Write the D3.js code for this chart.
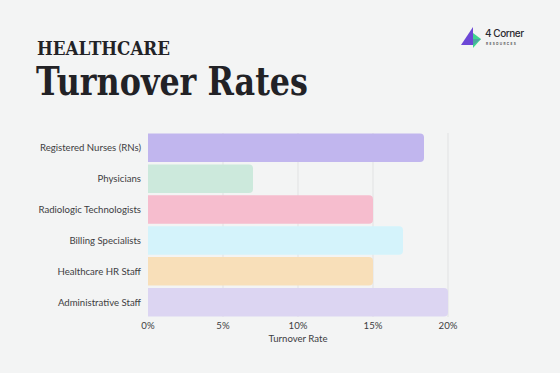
<!DOCTYPE html>
<html>
<head>
<meta charset="utf-8">
<script src="https://cdn.jsdelivr.net/npm/d3@7"></script>
<style>
  body { margin: 0; background: #f3f4f4; }
  svg { display: block; }
</style>
</head>
<body>
<div id="chart"></div>
<script>
// data
const categories = [
  "Registered Nurses (RNs)",
  "Physicians",
  "Radiologic Technologists",
  "Billing Specialists",
  "Healthcare HR Staff",
  "Administrative Staff"
];
const turnover = [18.4, 7, 15, 17, 15, 20];
const barColors = ["#c1b6ee", "#cce9dc", "#f6bdce", "#d4f3fb", "#f8dfb9", "#dcd5f2"];
const xTicks = [0, 5, 10, 15, 20];

const width = 560, height = 373;
const margins = { top: 133, bottom: 56, left: 148, right: 112 };

const svg = d3.select("#chart")
  .append("svg")
  .attr("width", width)
  .attr("height", height);

svg.append("rect")
  .attr("width", width)
  .attr("height", height)
  .attr("fill", "#f3f4f4");

// titles
svg.append("text")
  .attr("x", 37).attr("y", 55)
  .attr("font-family", "DejaVu Serif")
  .attr("font-weight", "bold")
  .attr("font-size", 19)
  .attr("textLength", 133)
  .attr("lengthAdjust", "spacingAndGlyphs")
  .attr("fill", "#222226")
  .text("HEALTHCARE");

svg.append("text")
  .attr("x", 36).attr("y", 95)
  .attr("font-family", "DejaVu Serif")
  .attr("font-weight", "bold")
  .attr("font-size", 40)
  .attr("textLength", 272)
  .attr("lengthAdjust", "spacingAndGlyphs")
  .attr("fill", "#222226")
  .text("Turnover Rates");

// logo
const logo = svg.append("g").attr("transform", "translate(461,27)");
logo.append("path").attr("d", "M12,0 L12,18 L0,18 Z").attr("fill", "#6c47d6");
logo.append("path").attr("d", "M12,6 L20,12 L12,21 Z").attr("fill", "#3ed58f");
logo.append("path").attr("d", "M12,12 L20,12 L12,18 Z").attr("fill", "#4aa7a0");
logo.append("text")
  .attr("x", 24).attr("y", 10)
  .attr("font-family", "Inter, 'Noto Sans', sans-serif")
  .attr("font-size", 10)
  .attr("font-weight", 500)
  .attr("textLength", 39)
  .attr("fill", "#2a2a30")
  .text("4 Corner");
logo.append("text")
  .attr("x", 25).attr("y", 17.5)
  .attr("font-family", "Inter, 'Noto Sans', sans-serif")
  .attr("font-size", 3.2)
  .attr("letter-spacing", 1.3)
  .attr("font-weight", "bold")
  .attr("fill", "#555")
  .text("RESOURCES");

const xScale = d3.scaleLinear()
  .domain([0, 20])
  .range([margins.left, width - margins.right]);

const yScale = d3.scaleBand()
  .domain(categories)
  .range([margins.top, height - margins.bottom])
  .paddingInner(0.08)
  .paddingOuter(0.02);

// grid lines
svg.append("g")
  .selectAll("line")
  .data(xTicks.slice(1))
  .join("line")
  .attr("x1", d => xScale(d)).attr("x2", d => xScale(d))
  .attr("y1", margins.top).attr("y2", height - margins.bottom)
  .attr("stroke", "#e1e2e3")
  .attr("stroke-width", 1);

// bars, square on the left, rounded on the right
const r = 4;
svg.append("g")
  .selectAll("path")
  .data(categories.map((c, i) => ({ c, v: turnover[i], color: barColors[i] })))
  .join("path")
  .attr("d", d => {
    const x0 = xScale(0), x1 = xScale(d.v);
    const y0 = yScale(d.c), y1 = y0 + yScale.bandwidth();
    return `M${x0},${y0} H${x1 - r} Q${x1},${y0} ${x1},${y0 + r} V${y1 - r} Q${x1},${y1} ${x1 - r},${y1} H${x0} Z`;
  })
  .attr("fill", d => d.color);

// category labels
svg.append("g")
  .selectAll("text")
  .data(categories)
  .join("text")
  .attr("x", margins.left - 7)
  .attr("y", d => yScale(d) + yScale.bandwidth() / 2)
  .attr("dy", "0.35em")
  .attr("text-anchor", "end")
  .attr("font-family", "Lato, 'Noto Sans', sans-serif")
  .attr("font-size", 9.6)
  .attr("fill", "#3d3d42")
  .text(d => d);

// x axis labels
svg.append("g")
  .selectAll("text")
  .data(xTicks)
  .join("text")
  .attr("x", d => xScale(d))
  .attr("y", height - margins.bottom + 12)
  .attr("text-anchor", "middle")
  .attr("font-family", "Lato, 'Noto Sans', sans-serif")
  .attr("font-size", 9.6)
  .attr("fill", "#3d3d42")
  .text(d => d + "%");

svg.append("text")
  .attr("x", xScale(10))
  .attr("y", height - margins.bottom + 25)
  .attr("text-anchor", "middle")
  .attr("font-family", "Lato, 'Noto Sans', sans-serif")
  .attr("font-size", 9.6)
  .attr("fill", "#3d3d42")
  .text("Turnover Rate");
</script>
</body>
</html>
